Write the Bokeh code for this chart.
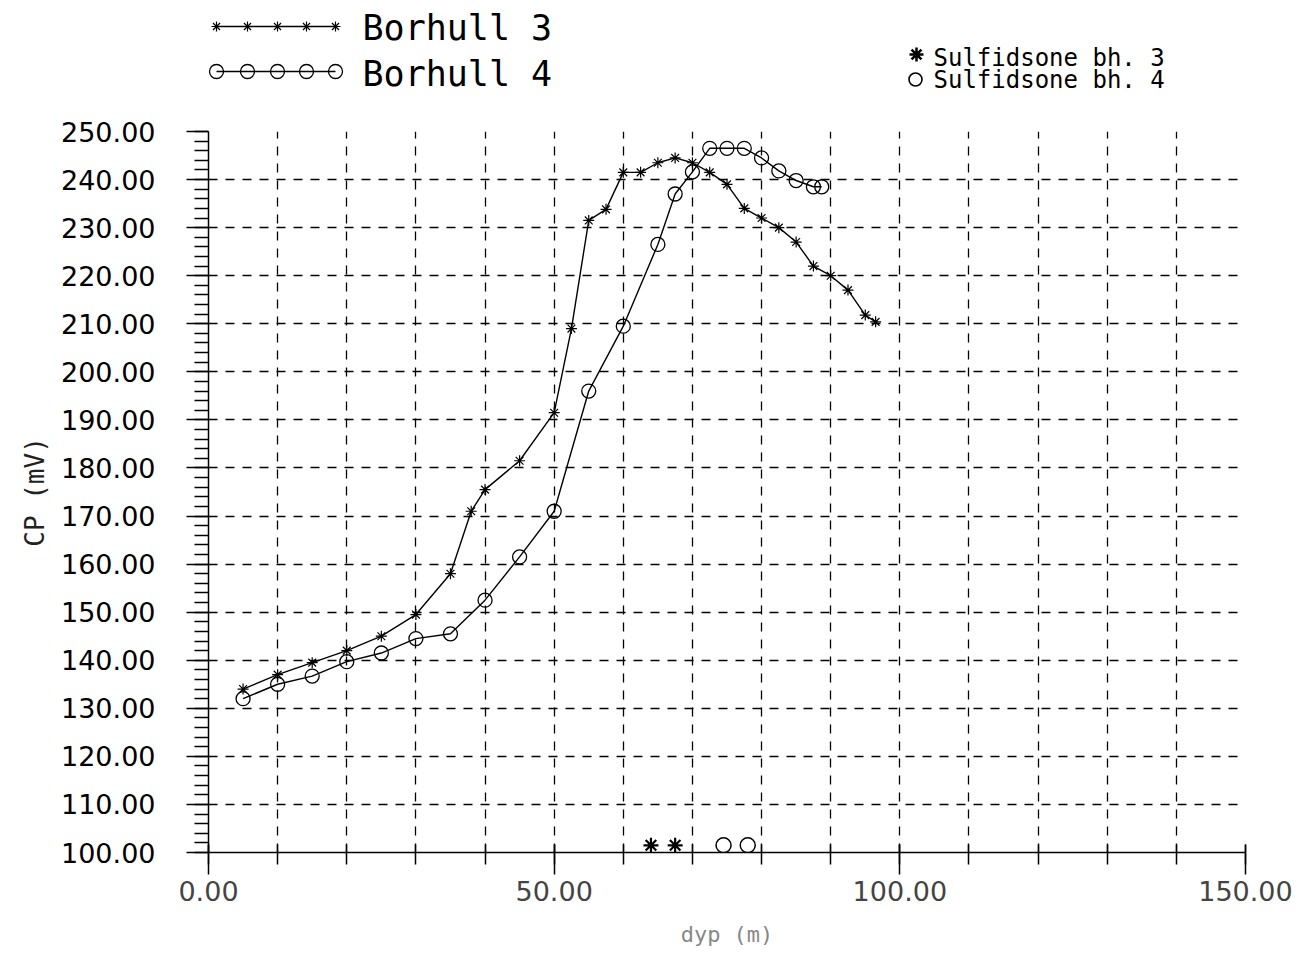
from bokeh.plotting import figure
from bokeh.models import Range1d, FixedTicker, SingleIntervalTicker, PrintfTickFormatter
from bokeh.layouts import column
from bokeh.embed import file_html
from bokeh.resources import INLINE
from bokeh.core.properties import value

FONT = "DejaVu Sans"
MONO = "DejaVu Sans Mono"

# ---- data ----
bh3_depth = [5, 10, 15, 20, 25, 30, 35, 38, 40, 45, 50, 52.5, 55, 57.5, 60, 62.5, 65, 67.5,
             70, 72.5, 75, 77.5, 80, 82.5, 85, 87.5, 90, 92.5, 95, 96.5]
bh3_cp = [134, 137, 139.5, 142, 145, 149.5, 158, 171, 175.5, 181.5, 191.5, 209, 231.5, 233.8,
          241.5, 241.5, 243.5, 244.5, 243.5, 241.5, 239, 234, 232, 230, 227, 222, 220, 217,
          211.8, 210.4]
bh4_depth = [5, 10, 15, 20, 25, 30, 35, 40, 45, 50, 55, 60, 65, 67.5, 70, 72.5, 75, 77.5,
             80, 82.5, 85, 87.5, 88.7]
bh4_cp = [132, 135, 136.7, 139.7, 141.5, 144.5, 145.5, 152.5, 161.5, 171, 196, 209.5, 226.5,
          237, 241.6, 246.5, 246.5, 246.5, 244.5, 241.8, 239.8, 238.5, 238.5]
sulf3_depth = [64.0, 67.5]
sulf4_depth = [74.5, 78.0]
sulf_level = 101.5

series_names = ["Borhull 3", "Borhull 4"]
sulf_names = ["Sulfidsone bh. 3", "Sulfidsone bh. 4"]
x_major_ticks = [0, 50, 100, 150]
x_grid_ticks = list(range(0, 151, 10))

W = 1306
HEAD_H = 112
MAIN_H = 846
FRAME_L = 208
FRAME_R = 1245

# ---- header with the legends (its frame is aligned with the main frame) ----
head = figure(width=W, height=HEAD_H, x_range=Range1d(FRAME_L, FRAME_R),
              y_range=Range1d(HEAD_H, 0),
              x_axis_type=None, y_axis_type=None, output_backend="svg",
              toolbar_location=None, min_border_left=FRAME_L, min_border_right=W - FRAME_R,
              min_border_top=0, min_border_bottom=0)
head.grid.visible = False
head.outline_line_color = None

sample_x = [216, 247, 277, 306, 335]
head.line(sample_x, [26] * 5, line_color="black", line_width=1.3)
head.scatter(sample_x, [26] * 5, marker="asterisk", size=10, line_color="black", line_width=1.2)
head.line(sample_x, [71] * 5, line_color="black", line_width=1.3)
head.scatter(sample_x, [71] * 5, marker="circle", size=14, fill_color=None,
             line_color="black", line_width=1.3)
head.text(x=[362, 362], y=[27, 73.5], text=series_names, text_font=value(MONO),
          text_font_size="35px", text_baseline="middle", text_align="left", text_color="black")

head.scatter([916], [54], marker="asterisk", size=14, line_color="black", line_width=2.5)
head.scatter([915], [79], marker="circle", size=13, fill_color=None, line_color="black",
             line_width=1.6)
head.text(x=[933, 933], y=[57, 79], text=sulf_names, text_font=value(MONO),
          text_font_size="24px", text_baseline="middle", text_align="left", text_color="black")

# ---- main plot ----
p = figure(width=W, height=MAIN_H, x_range=Range1d(0, 150), y_range=Range1d(100, 250),
           output_backend="svg", toolbar_location=None,
           min_border_left=FRAME_L, min_border_right=W - FRAME_R, min_border_top=19,
           min_border_bottom=106)
p.outline_line_color = None

# grid
p.xgrid.ticker = FixedTicker(ticks=x_grid_ticks)
p.ygrid.ticker = SingleIntervalTicker(interval=10)
for g in (p.xgrid, p.ygrid):
    g.grid_line_color = "black"
    g.grid_line_dash = "9 8"
    g.grid_line_width = 1.3
    g.grid_line_alpha = 1.0

# x axis
xa = p.xaxis[0]
xa.ticker = FixedTicker(ticks=x_major_ticks, minor_ticks=x_grid_ticks)
xa.formatter = PrintfTickFormatter(format="%.2f")
xa.major_tick_in = 8
xa.major_tick_out = 22
xa.minor_tick_in = 8
xa.minor_tick_out = 12
xa.axis_line_width = 1.5
xa.major_tick_line_width = 1.5
xa.minor_tick_line_width = 1.5
xa.axis_line_color = "black"
xa.major_tick_line_color = "black"
xa.minor_tick_line_color = "black"
xa.major_label_text_font = FONT
xa.major_label_text_font_size = "27px"
xa.major_label_text_color = "#444444"
xa.major_label_standoff = 6
xa.axis_label = "dyp (m)"
xa.axis_label_text_font = MONO
xa.axis_label_text_font_size = "22px"
xa.axis_label_text_font_style = "normal"
xa.axis_label_text_color = "#888888"
xa.axis_label_standoff = 18

# y axis
ya = p.yaxis[0]
ya.ticker = SingleIntervalTicker(interval=10, num_minor_ticks=5)
ya.formatter = PrintfTickFormatter(format="%.2f")
ya.major_tick_in = 0
ya.major_tick_out = 22
ya.minor_tick_in = 0
ya.minor_tick_out = 14
ya.axis_line_width = 1.5
ya.major_tick_line_width = 1.5
ya.minor_tick_line_width = 1.5
ya.axis_line_color = "black"
ya.major_tick_line_color = "black"
ya.minor_tick_line_color = "black"
ya.major_label_text_font = FONT
ya.major_label_text_font_size = "27px"
ya.major_label_text_color = "black"
ya.major_label_standoff = 31
ya.axis_label = "CP (mV)"
ya.axis_label_text_font = MONO
ya.axis_label_text_font_size = "26px"
ya.axis_label_text_font_style = "normal"
ya.axis_label_text_color = "#222222"
ya.axis_label_standoff = 8

# series
p.line(bh3_depth, bh3_cp, line_color="black", line_width=1.4)
p.scatter(bh3_depth, bh3_cp, marker="asterisk", size=11, line_color="black", line_width=1.2)
p.line(bh4_depth, bh4_cp, line_color="black", line_width=1.4)
p.scatter(bh4_depth, bh4_cp, marker="circle", size=14, fill_color=None,
          line_color="black", line_width=1.3)

# sulfide zones
p.scatter(sulf3_depth, [sulf_level] * len(sulf3_depth), marker="asterisk", size=15,
          line_color="black", line_width=2.2)
p.scatter(sulf4_depth, [sulf_level] * len(sulf4_depth), marker="circle", size=15,
          fill_color=None, line_color="black", line_width=1.5)

layout = column(head, p)
open("out.html", "w").write(file_html(layout, INLINE))
